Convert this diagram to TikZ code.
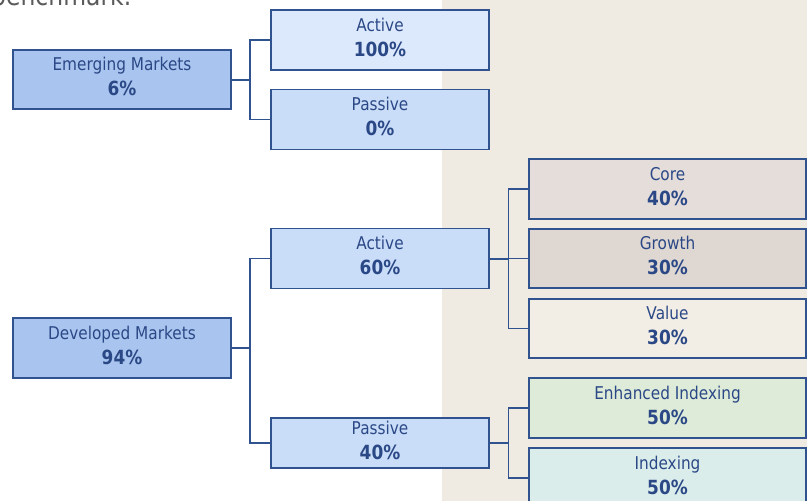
\documentclass[tikz,border=0pt]{standalone}
\usepackage{fontspec}
\setmainfont[FakeStretch=0.87]{DejaVu Sans}
\definecolor{bgbeige}{HTML}{EFEBE2}
\definecolor{edgeblue}{HTML}{30528F}
\definecolor{txtblue}{HTML}{2B4886}
\definecolor{fillem}{HTML}{A9C5EF}
\definecolor{fillact}{HTML}{DCE8FC}
\definecolor{fillpas}{HTML}{C9DCF8}
\definecolor{fillcore}{HTML}{E4DDDA}
\definecolor{fillgrowth}{HTML}{DFD7D1}
\definecolor{fillvalue}{HTML}{F2EEE6}
\definecolor{fillenh}{HTML}{DEEBD8}
\definecolor{fillidx}{HTML}{DAEDEB}
\definecolor{headgray}{HTML}{5A5A5A}
\newcommand{\pctval}[1]{{\fontsize{19.5}{25}\selectfont\bfseries #1\rule[-6pt]{0pt}{6pt}}}
\tikzset{
  box/.style={draw=edgeblue, line width=1.5pt, align=center, text=txtblue,
    font=\fontsize{17.6}{25}\selectfont, inner sep=0pt},
  leftbox/.style={box, minimum width=218pt, minimum height=59pt},
  midbox/.style={box, minimum width=218pt, minimum height=60pt},
  rightbox/.style={box, minimum width=277pt, minimum height=59pt},
  conn/.style={draw=edgeblue, line width=1.6pt},
}
\begin{document}
\begin{tikzpicture}[x=1pt,y=-1pt]
\useasboundingbox (0,0) rectangle (807,501);
\fill[white] (0,0) rectangle (807,501);
\fill[bgbeige] (442,0) rectangle (807,501);
\node[anchor=base west, inner sep=0pt, text=headgray, font=\fontsize{27}{30}\selectfont] (head) at (-9,5) {benchmark.};

\node[leftbox, fill=fillem] (em) at (122,79.5) {Emerging Markets\\\pctval{6\%}};
\node[midbox, fill=fillact] (act100) at (380,40) {Active\\\pctval{100\%}};
\node[midbox, fill=fillpas] (pas0) at (380,119.5) {Passive\\\pctval{0\%}};

\node[leftbox, fill=fillem, minimum height=60pt] (dm) at (122,348) {Developed Markets\\\pctval{94\%}};
\node[midbox, fill=fillpas] (act60) at (380,258.5) {Active\\\pctval{60\%}};
\node[midbox, fill=fillpas, minimum height=50pt] (pas40) at (380,443) {Passive\\\pctval{40\%}};

\node[rightbox, fill=fillcore, minimum height=60pt] (core) at (667.5,189) {Core\\\pctval{40\%}};
\node[rightbox, fill=fillgrowth] (growth) at (667.5,258.5) {Growth\\\pctval{30\%}};
\node[rightbox, fill=fillvalue] (value) at (667.5,328.5) {Value\\\pctval{30\%}};
\node[rightbox, fill=fillenh, minimum height=60pt] (enh) at (667.5,408) {Enhanced Indexing\\\pctval{50\%}};
\node[rightbox, fill=fillidx, minimum height=60pt] (idx) at (667.5,478) {Indexing\\\pctval{50\%}};

\coordinate (j1) at (250,79.5);
\coordinate (j2) at (250,348);
\coordinate (j3) at (508.5,258.5);
\coordinate (j4) at (508.5,443);

\draw[conn, line width=2pt] (em.east) -- (j1);
\draw[conn] (act100.west) -| (j1) |- (pas0.west);
\draw[conn, line width=2pt] (dm.east) -- (j2);
\draw[conn] (act60.west) -| (j2) |- (pas40.west);
\draw[conn, line width=2pt] (act60.east) -- (j3);
\draw[conn] (core.west) -| (j3) |- (value.west);
\draw[conn] (j3) -- (growth.west);
\draw[conn, line width=2pt] (pas40.east) -- (j4);
\draw[conn] (enh.west) -| (j4) |- (idx.west);
\end{tikzpicture}
\end{document}
